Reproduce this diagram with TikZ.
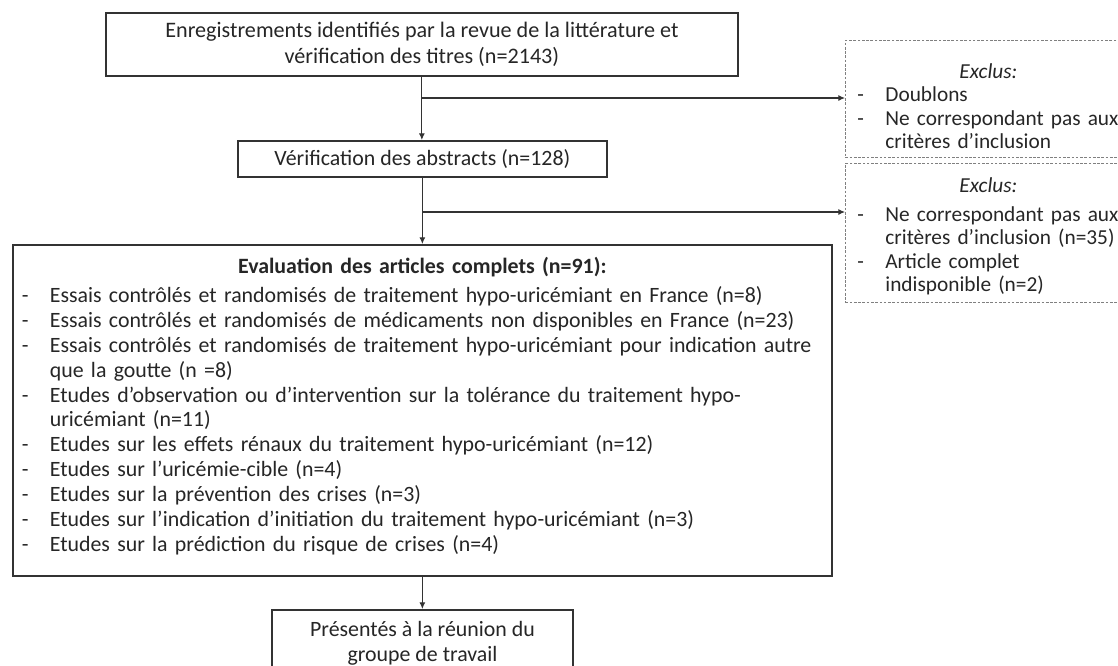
\documentclass[tikz,border=0pt]{standalone}
\usepackage{fontspec}
\setmainfont{Carlito}
\usetikzlibrary{arrows.meta}

\newcommand{\tiret}[1]{\mbox{\makebox[21pt][l]{-}#1}}
\newcommand{\suite}[1]{\mbox{\hspace*{21pt}#1}}

\begin{document}
\begin{tikzpicture}[x=0.75pt, y=-0.75pt,
  every node/.style={text=black!85},
  box/.style={draw=black!80, line width=1.3pt, fill=white, inner sep=0pt},
  exclbox/.style={draw=black!50, dash pattern=on 2pt off 1.2pt, line width=0.6pt,
    inner xsep=9pt, inner ysep=0pt, anchor=north west, align=left,
    font=\fontsize{16pt}{17.4pt}\selectfont},
  fleche/.style={draw=black!80, line width=0.8pt, -{Latex[length=5pt,width=4.5pt]}}]
\useasboundingbox (0,0) rectangle (1118,665);

% boites principales
\node[box, anchor=north west, minimum width=474pt, minimum height=47.25pt, align=center,
  font=\fontsize{16.6pt}{19.5pt}\selectfont] (ident) at (105,12)
  {Enregistrements identifiés par la revue de la littérature et\\vérification des titres (n=2143)};
\node[box, anchor=north west, minimum width=276.75pt, minimum height=27pt,
  font=\fontsize{16.4pt}{18pt}\selectfont] (abstr) at (237,140)
  {Vérification des abstracts (n=128)};
\node[box, anchor=north west, minimum width=614.25pt, minimum height=248.25pt,
  inner xsep=6.75pt, text width=600.75pt, align=left,
  font=\fontsize{16.4pt}{18.65pt}\selectfont] (eval) at (12,244)
  {\makebox[600.75pt]{\bfseries Evaluation des articles complets (n=91):}\\[3pt]
   \tiret{Essais contrôlés et randomisés de traitement hypo-uricémiant en France (n=8)}\\
   \tiret{Essais contrôlés et randomisés de médicaments non disponibles en France (n=23)}\\
   \tiret{Essais contrôlés et randomisés de traitement hypo-uricémiant pour indication autre}\\
   \suite{que la goutte (n =8)}\\
   \tiret{Etudes d’observation ou d’intervention sur la tolérance du traitement hypo-}\\
   \suite{uricémiant (n=11)}\\
   \tiret{Etudes sur les effets rénaux du traitement hypo-uricémiant (n=12)}\\
   \tiret{Etudes sur l’uricémie-cible (n=4)}\\
   \tiret{Etudes sur la prévention des crises (n=3)}\\
   \tiret{Etudes sur l’indication d’initiation du traitement hypo-uricémiant (n=3)}\\
   \tiret{Etudes sur la prédiction du risque de crises (n=4)}\rule[-9pt]{0pt}{1pt}};
\node[box, anchor=north, minimum width=225.75pt, minimum height=50pt, align=center,
  font=\fontsize{16.4pt}{18.75pt}\selectfont] (pres) at (422.5,609)
  {Présentés à la réunion du\\groupe de travail};

% exclusions
\node[exclbox, minimum width=214.5pt, minimum height=87.75pt, text width=196.5pt] (excl1) at (845,40)
  {\makebox[196.5pt]{\rule{0pt}{22pt}\itshape Exclus:}\\
   \tiret{Doublons}\\
   \tiret{Ne correspondant pas aux}\\
   \suite{critères d’inclusion}};
\node[exclbox, minimum width=214.5pt, minimum height=104.25pt, text width=196.5pt] (excl2) at (845,163)
  {\makebox[196.5pt]{\rule{0pt}{16pt}\itshape Exclus:}\\[4.5pt]
   \tiret{Ne correspondant pas aux}\\
   \suite{critères d’inclusion (n=35)}\\
   \tiret{Article complet}\\
   \suite{indisponible (n=2)}};

% fleches
\coordinate (b1) at (ident.south |- 0,98);
\coordinate (b2) at (abstr.south |- 0,212);
\draw[fleche] (ident.south) -- (ident.south |- abstr.north);
\draw[fleche] (b1) -- (b1 -| excl1.west);
\draw[fleche] (abstr.south) -- (abstr.south |- eval.north);
\draw[fleche] (b2) -- (b2 -| excl2.west);
\draw[fleche] (eval.south) -- (eval.south |- pres.north);
\end{tikzpicture}
\end{document}
